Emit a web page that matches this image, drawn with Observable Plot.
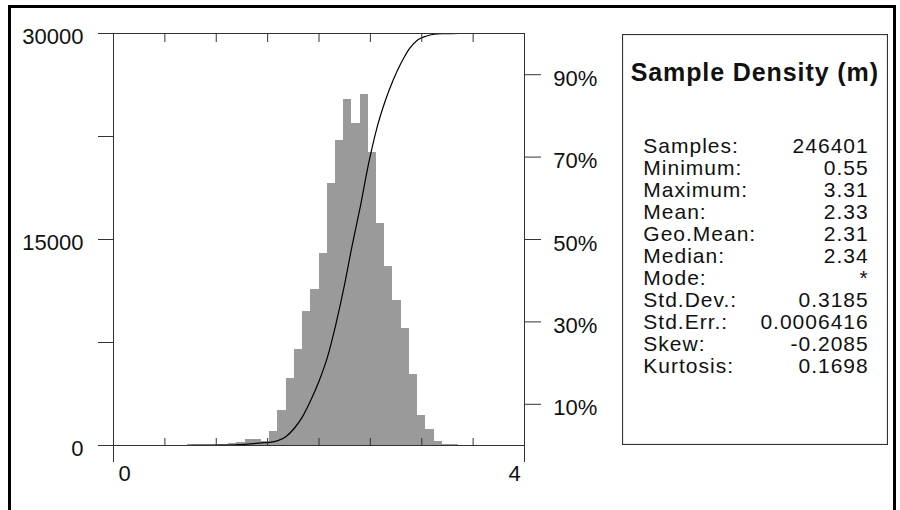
<!DOCTYPE html>
<html><head><meta charset="utf-8">
<script src="https://cdn.jsdelivr.net/npm/d3@7"></script>
<script src="https://cdn.jsdelivr.net/npm/@observablehq/plot@0.6"></script>
<style>
body{margin:0;background:#fff;font-family:"Liberation Sans",Arial,sans-serif;}
#wrap{position:relative;width:900px;height:510px;overflow:hidden;background:#fff;}
#border{position:absolute;left:8px;top:5px;width:888px;height:530px;border:3px solid #000;box-sizing:border-box;}
#chart{position:absolute;left:0;top:0;}
#stats{position:absolute;left:622px;top:34px;}
</style></head>
<body>
<div id="wrap"><div id="border"></div><div id="chart"></div><div id="stats"></div></div>
<script>
// Histogram bins (lower edge, width 0.08) and counts
const binStart = [0.48,0.56,0.64,0.72,0.80,0.88,0.96,1.04,1.12,1.20,1.28,1.36,1.44,1.52,1.60,1.68,1.76,1.84,1.92,2.00,2.08,2.16,2.24,2.32,2.40,2.48,2.56,2.64,2.72,2.80,2.88,2.96,3.04,3.12,3.20,3.28];
const binWidth = 0.08;
const counts = [2,3,8,40,50,60,70,80,150,240,440,430,300,1030,2520,4900,6970,9760,11380,13950,19060,22210,25170,23470,25540,21360,16140,13060,10560,8540,5150,2220,1200,320,70,50];

// Axis ticks / labels
const xDomain = [0, 4];
const xEndTicks = [0, 4];
const xInnerTicks = [0.5, 1, 1.5, 2, 2.5, 3, 3.5];
const yMax = 30000;
const yTicks = [0, 7500, 15000, 22500, 30000];
const yLabels = [0, 15000, 30000];
const pctTicks = [10, 30, 50, 70, 90];

// Statistics panel
const statTitle = "Sample Density (m)";
const statNames = ["Samples:","Minimum:","Maximum:","Mean:","Geo.Mean:","Median:","Mode:","Std.Dev.:","Std.Err.:","Skew:","Kurtosis:"];
const statValues = ["246401","0.55","3.31","2.33","2.31","2.34","*","0.3185","0.0006416","-0.2085","0.1698"];

const bins = binStart.map((s, i) => ({x1: s, x2: s + binWidth, count: counts[i]}));
const total = d3.sum(counts);
const cum = d3.cumsum(counts);
const cdf = [{x: binStart[0], y: 0}].concat(binStart.map((s, i) => ({x: s + binWidth, y: cum[i] / total * yMax})));
const pctToY = p => p / 100 * yMax;
const font = "Liberation Sans, Arial, sans-serif";
const ink = "#111";
const axisCol = "#333";

const plot = Plot.plot({
  width: 600, height: 510,
  marginLeft: 113, marginRight: 76, marginTop: 33, marginBottom: 65,
  style: {fontFamily: font, fontSize: "22px", color: ink, background: "transparent"},
  x: {domain: xDomain},
  y: {domain: [0, yMax]},
  marks: [
    Plot.rectY(bins, {x1: "x1", x2: "x2", y: "count", fill: "#9a9a9a", shapeRendering: "crispEdges"}),
    Plot.line(cdf, {x: "x", y: "y", stroke: "#000", strokeWidth: 1.2, curve: "monotone-x"}),
    Plot.frame({stroke: axisCol}),
    Plot.axisY({anchor: "left", ticks: yTicks, tickSize: 15, tickFormat: () => "", stroke: axisCol}),
    Plot.text(yLabels, {y: d => d, text: d => String(d), frameAnchor: "left", dx: -30, dy: 3.5, textAnchor: "end", fontSize: 22, fill: ink}),
    Plot.axisY({anchor: "right", ticks: pctTicks.map(pctToY), tickSize: 16, tickFormat: () => "", stroke: axisCol}),
    Plot.text(pctTicks, {y: d => pctToY(d), text: d => d + "%", frameAnchor: "right", dx: 28.7, dy: 4, textAnchor: "start", fontSize: 22, fill: ink}),
    Plot.axisX({anchor: "bottom", ticks: xEndTicks, tickSize: 17, tickFormat: () => "", stroke: axisCol}),
    Plot.axisX({anchor: "bottom", ticks: xInnerTicks, tickSize: 7, dy: -7, tickFormat: () => "", stroke: axisCol}),
    Plot.axisX({anchor: "top", ticks: xInnerTicks, tickSize: 8, dy: 8, tickFormat: () => "", stroke: axisCol}),
    Plot.text([xEndTicks[0]], {x: d => d, text: d => String(d), frameAnchor: "bottom", dy: 35, dx: 11, fontSize: 22, fill: ink}),
    Plot.text([xEndTicks[1]], {x: d => d, text: d => String(d), frameAnchor: "bottom", dy: 35, dx: -10, fontSize: 22, fill: ink})
  ]
});
document.getElementById("chart").appendChild(plot);

// Stats panel
const W = 266, H = 411;
const svg = d3.select("#stats").append("svg").attr("width", W).attr("height", H)
  .style("font-family", font);
svg.append("rect").attr("x", 0.5).attr("y", 0.5).attr("width", W - 1).attr("height", H - 1)
  .attr("fill", "#fff").attr("stroke", axisCol).attr("stroke-width", 1.2);
svg.append("text").attr("x", 8.7).attr("y", 47).attr("font-size", 25).attr("font-weight", "bold")
  .attr("letter-spacing", "0.9px").attr("fill", ink).text(statTitle);
const rowY = i => 118.7 + 22 * i;
svg.selectAll("text.n").data(statNames).join("text").attr("class", "n")
  .attr("x", 21.3).attr("y", (d, i) => rowY(i)).attr("font-size", 21).attr("letter-spacing", "1px")
  .attr("fill", ink).text(d => d);
svg.selectAll("text.v").data(statValues).join("text").attr("class", "v")
  .attr("x", 246.7).attr("y", (d, i) => rowY(i)).attr("font-size", 21).attr("letter-spacing", "1px")
  .attr("text-anchor", "end").attr("fill", ink).text(d => d);
</script>
</body></html>
